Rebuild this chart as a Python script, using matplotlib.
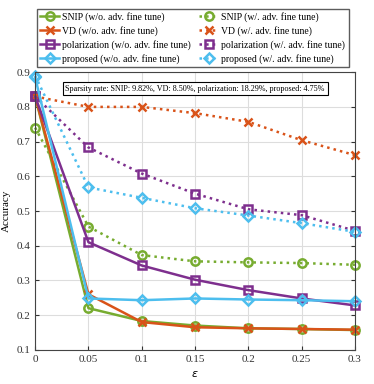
import matplotlib
matplotlib.use('Agg')
import matplotlib.pyplot as plt

plt.rcParams['font.family'] = 'Liberation Serif'

eps = [0, 0.05, 0.1, 0.15, 0.2, 0.25, 0.3]

snip_wo = [0.83, 0.22, 0.183, 0.17, 0.162, 0.16, 0.157]
snip_w = [0.74, 0.455, 0.373, 0.355, 0.352, 0.35, 0.345]
vd_wo = [0.83, 0.26, 0.18, 0.165, 0.162, 0.16, 0.158]
vd_w = [0.83, 0.80, 0.80, 0.782, 0.757, 0.704, 0.661]
pol_wo = [0.83, 0.41, 0.343, 0.302, 0.272, 0.248, 0.228]
pol_w = [0.83, 0.683, 0.608, 0.55, 0.505, 0.488, 0.443]
prop_wo = [0.885, 0.248, 0.243, 0.248, 0.245, 0.243, 0.24]
prop_w = [0.89, 0.568, 0.538, 0.508, 0.487, 0.465, 0.44]

green = '#77AC30'
orange = '#D95319'
purple = '#7E2F8E'
blue = '#4DBEEE'

series = [
    (snip_wo, green, '-', 'o', 'SNIP (w/o. adv. fine tune)'),
    (snip_w, green, ':', 'o', 'SNIP (w/. adv. fine tune)'),
    (vd_wo, orange, '-', 'x', 'VD (w/o. adv. fine tune)'),
    (vd_w, orange, ':', 'x', 'VD (w/. adv. fine tune)'),
    (pol_wo, purple, '-', 's', 'polarization (w/o. adv. fine tune)'),
    (pol_w, purple, ':', 's', 'polarization (w/. adv. fine tune)'),
    (prop_wo, blue, '-', 'D', 'proposed (w/o. adv. fine tune)'),
    (prop_w, blue, ':', 'D', 'proposed (w/. adv. fine tune)'),
]

fig = plt.figure(figsize=(3.74, 3.84), dpi=100)
ax = fig.add_axes([0.094, 0.089, 0.855, 0.723])

handles = []
for vals, c, ls, mk, lab in series:
    ms = 6 if mk != 'D' else 5
    h, = ax.plot(eps, vals, color=c, linestyle=ls, linewidth=1.8, marker=mk,
                 markersize=ms, markerfacecolor='none', markeredgewidth=1.8,
                 label=lab, clip_on=False)
    handles.append(h)

ax.set_xlim(0, 0.3)
ax.set_ylim(0.1, 0.9)
ax.set_xticks(eps)
ax.set_xticklabels(['0', '0.05', '0.1', '0.15', '0.2', '0.25', '0.3'])
ax.set_yticks([0.1, 0.2, 0.3, 0.4, 0.5, 0.6, 0.7, 0.8, 0.9])
ax.grid(True, color='#dddddd', linewidth=0.8)
ax.tick_params(direction='in', labelsize=8, top=False, right=True, length=3, colors='#333333')
for s in ax.spines.values():
    s.set_color('#444444')
    s.set_linewidth(0.8)
ax.set_xlabel('$\\epsilon$', fontsize=8)
ax.set_ylabel('Accuracy', fontsize=8, labelpad=4)

ax.text(0.5, 0.955, 'Sparsity rate: SNIP: 9.82%, VD: 8.50%, polarization: 18.29%, proposed: 4.75%',
        transform=ax.transAxes, ha='center', va='top', fontsize=5.9,
        bbox=dict(facecolor='white', edgecolor='black', linewidth=0.8, pad=2))

# row-wise legend order: w/o. entries in left column, w/. in right
order = [0, 2, 4, 6, 1, 3, 5, 7]
fig.legend([handles[i] for i in order], [series[i][4] for i in order],
           loc='upper center', bbox_to_anchor=(0.515, 0.99), ncol=2, fontsize=7,
           frameon=True, fancybox=False, edgecolor='#333333', handlelength=2.0,
           columnspacing=0.8, handletextpad=0.3, labelspacing=0.4, borderpad=0.35)

fig.savefig('out.png', dpi=100)
